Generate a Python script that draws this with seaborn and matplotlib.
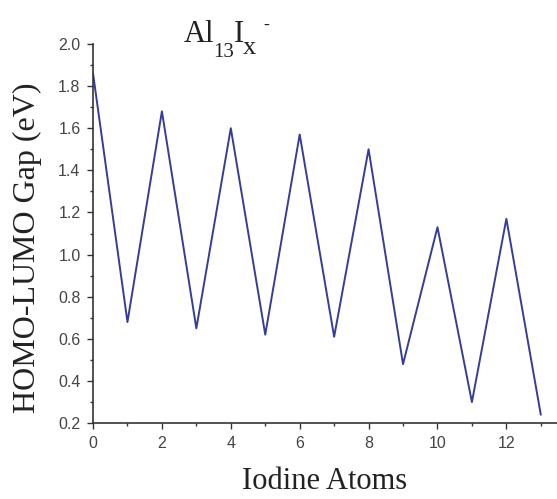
# Gap HOMO-LUMO de los clústeres Al13Ix- frente al número de átomos de yodo
import pandas as pd
import matplotlib.pyplot as plt
import seaborn as sns
from matplotlib.ticker import MultipleLocator

# -------------------------------------------------------------
# DATOS
# -------------------------------------------------------------
atomos_yodo = [0, 1, 2, 3, 4, 5, 6, 7, 8, 9, 10, 11, 12, 13]
gap_ev = [1.86, 0.68, 1.68, 0.65, 1.60, 0.62, 1.57, 0.61, 1.50, 0.48,
          1.13, 0.30, 1.17, 0.24]

COLOR_LINEA = "#353d96"
ANCHO, ALTO = 557, 499

sns.set_style("ticks")
plt.rcParams["font.family"] = ["Liberation Sans", "DejaVu Sans"]

df = pd.DataFrame({"atomos": atomos_yodo, "gap": gap_ev})

fig = plt.figure(figsize=(ANCHO / 100, ALTO / 100), dpi=100)
ax = fig.add_axes([0.167, 0.152, 0.833, 0.76])

sns.lineplot(data=df, x="atomos", y="gap", ax=ax, color=COLOR_LINEA,
             linewidth=1.4)

ax.set_xlim(0, 13.47)
ax.set_ylim(0.2, 2.0)
ax.xaxis.set_major_locator(MultipleLocator(2))
ax.xaxis.set_minor_locator(MultipleLocator(1))
ax.yaxis.set_major_locator(MultipleLocator(0.2))
ax.yaxis.set_minor_locator(MultipleLocator(0.1))
ax.tick_params(which="major", length=4, width=1, labelsize=11.5, pad=5,
               colors="#333333", labelcolor="#444444")
ax.tick_params(which="minor", length=2.5, width=1, colors="#333333")
for lado in ["left", "bottom"]:
    ax.spines[lado].set_color("#333333")
    ax.spines[lado].set_linewidth(1.2)
sns.despine(ax=ax)

serif = ["Liberation Serif", "DejaVu Serif"]
ax.set_xlabel("Iodine Atoms", family=serif, fontsize=22, color="#222222",
              labelpad=12)
ax.set_ylabel("HOMO-LUMO Gap (eV)", family=serif, fontsize=23,
              color="#222222")
ax.yaxis.set_label_coords(-0.109, 0.462)

# Título Al13Ix- montado por piezas: (texto, tamaño, bajada en px, hueco en px)
renderer = fig.canvas.get_renderer()
piezas = [("Al", 22, 0, 0), ("13", 15, 15, -1), ("I", 22, 0, -1),
          ("x", 19, 12, -1), ("-", 13, -12, 8)]
x_px = 184
for texto, tam, bajada, hueco in piezas:
    x_px += hueco
    t = fig.text(x_px / ANCHO, 1 - (42 + bajada) / ALTO, texto, family=serif,
                 fontsize=tam, color="#222222", ha="left", va="baseline")
    x_px = t.get_window_extent(renderer).x1

fig.savefig("out.png", dpi=100)
